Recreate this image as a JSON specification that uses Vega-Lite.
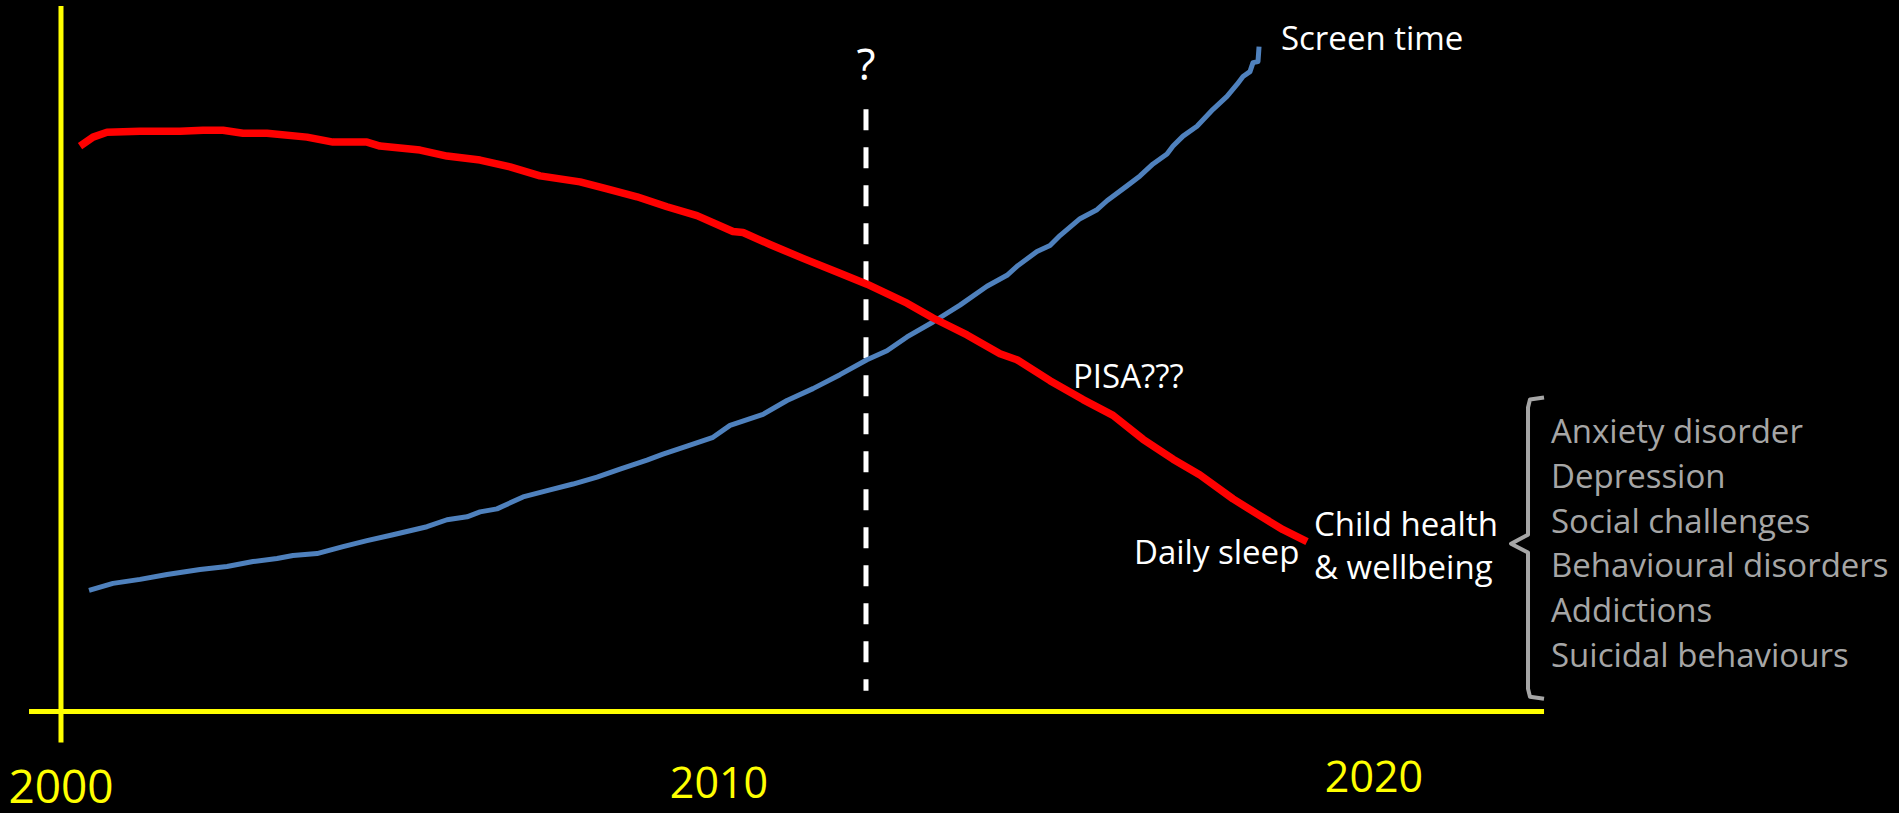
{
  "$schema": "https://vega.github.io/schema/vega-lite/v6.json",
  "width": 1899,
  "height": 813,
  "autosize": {"type": "fit", "contains": "padding"},
  "padding": 0,
  "background": "#000000",
  "config": {"view": {"stroke": null}},
  "datasets": {
    "sleep": [
      {"year": 2000.290, "value": 79.47}, {"year": 2000.488, "value": 80.73}, {"year": 2000.701, "value": 81.42},
      {"year": 2001.204, "value": 81.56}, {"year": 2001.813, "value": 81.56}, {"year": 2002.163, "value": 81.70},
      {"year": 2002.468, "value": 81.70}, {"year": 2002.772, "value": 81.28}, {"year": 2003.138, "value": 81.28},
      {"year": 2003.747, "value": 80.73}, {"year": 2004.143, "value": 80.03}, {"year": 2004.661, "value": 80.03},
      {"year": 2004.859, "value": 79.47}, {"year": 2005.469, "value": 78.91}, {"year": 2005.880, "value": 78.07},
      {"year": 2006.383, "value": 77.51}, {"year": 2006.840, "value": 76.54}, {"year": 2007.297, "value": 75.28},
      {"year": 2007.906, "value": 74.44}, {"year": 2008.317, "value": 73.46}, {"year": 2008.774, "value": 72.35},
      {"year": 2009.231, "value": 70.95}, {"year": 2009.688, "value": 69.69}, {"year": 2010.236, "value": 67.46},
      {"year": 2010.389, "value": 67.32}, {"year": 2010.800, "value": 65.64}, {"year": 2011.303, "value": 63.69},
      {"year": 2011.866, "value": 61.59}, {"year": 2012.277, "value": 60.06}, {"year": 2012.887, "value": 57.40},
      {"year": 2013.283, "value": 55.31}, {"year": 2013.801, "value": 52.93}, {"year": 2014.303, "value": 50.28},
      {"year": 2014.562, "value": 49.44}, {"year": 2015.065, "value": 46.51}, {"year": 2015.568, "value": 43.85},
      {"year": 2016.025, "value": 41.62}, {"year": 2016.482, "value": 38.27}, {"year": 2016.939, "value": 35.47},
      {"year": 2017.350, "value": 33.24}, {"year": 2017.852, "value": 29.89}, {"year": 2018.218, "value": 27.79},
      {"year": 2018.614, "value": 25.56}, {"year": 2018.980, "value": 23.88}
    ],
    "screen": [
      {"year": 2000.427, "value": 17.04}, {"year": 2000.792, "value": 18.02}, {"year": 2001.204, "value": 18.58},
      {"year": 2001.615, "value": 19.27}, {"year": 2002.118, "value": 19.97}, {"year": 2002.529, "value": 20.39},
      {"year": 2002.925, "value": 21.09}, {"year": 2003.290, "value": 21.51}, {"year": 2003.534, "value": 21.93},
      {"year": 2003.900, "value": 22.21}, {"year": 2004.296, "value": 23.18}, {"year": 2004.661, "value": 24.02},
      {"year": 2005.057, "value": 24.86}, {"year": 2005.575, "value": 25.98}, {"year": 2005.880, "value": 26.96},
      {"year": 2006.185, "value": 27.37}, {"year": 2006.383, "value": 28.07}, {"year": 2006.642, "value": 28.49},
      {"year": 2007.038, "value": 30.17}, {"year": 2007.449, "value": 31.15}, {"year": 2007.799, "value": 31.98},
      {"year": 2008.165, "value": 32.96}, {"year": 2008.515, "value": 34.08}, {"year": 2008.926, "value": 35.34},
      {"year": 2009.170, "value": 36.17}, {"year": 2009.536, "value": 37.29}, {"year": 2009.932, "value": 38.55},
      {"year": 2010.191, "value": 40.22}, {"year": 2010.693, "value": 41.76}, {"year": 2011.059, "value": 43.72},
      {"year": 2011.455, "value": 45.39}, {"year": 2011.866, "value": 47.35}, {"year": 2012.277, "value": 49.44},
      {"year": 2012.582, "value": 50.70}, {"year": 2012.887, "value": 52.65}, {"year": 2013.283, "value": 54.75},
      {"year": 2013.694, "value": 57.12}, {"year": 2014.105, "value": 59.78}, {"year": 2014.410, "value": 61.31},
      {"year": 2014.562, "value": 62.57}, {"year": 2014.867, "value": 64.66}, {"year": 2015.065, "value": 65.50},
      {"year": 2015.217, "value": 66.90}, {"year": 2015.522, "value": 69.27}, {"year": 2015.781, "value": 70.53},
      {"year": 2015.933, "value": 71.79}, {"year": 2016.238, "value": 73.88}, {"year": 2016.436, "value": 75.28},
      {"year": 2016.634, "value": 76.96}, {"year": 2016.847, "value": 78.35}, {"year": 2016.939, "value": 79.47},
      {"year": 2017.091, "value": 80.87}, {"year": 2017.304, "value": 82.26}, {"year": 2017.548, "value": 84.64},
      {"year": 2017.761, "value": 86.45}, {"year": 2017.913, "value": 88.13}, {"year": 2018.005, "value": 89.25},
      {"year": 2018.111, "value": 89.94}, {"year": 2018.157, "value": 91.20}, {"year": 2018.233, "value": 91.34},
      {"year": 2018.249, "value": 93.44}
    ],
    "bracket": [
      {"o": 1, "year": 2022.590, "value": 44.13},
      {"o": 2, "year": 2022.376, "value": 43.85},
      {"o": 3, "year": 2022.346, "value": 42.74},
      {"o": 4, "year": 2022.346, "value": 24.86},
      {"o": 5, "year": 2022.087, "value": 23.60},
      {"o": 6, "year": 2022.346, "value": 22.35},
      {"o": 7, "year": 2022.346, "value": 3.20},
      {"o": 8, "year": 2022.376, "value": 2.10},
      {"o": 9, "year": 2022.590, "value": 1.80}
    ],
    "whiteLabels": [
      {"label": "Screen time", "year": 2018.583, "value": 93.02},
      {"label": "PISA???", "year": 2015.415, "value": 45.53},
      {"label": "Daily sleep", "year": 2016.344, "value": 20.80},
      {"label": "Child health", "year": 2019.086, "value": 24.72},
      {"label": "& wellbeing", "year": 2019.086, "value": 18.57}
    ],
    "grayLabels": [
      {"label": "Anxiety disorder", "year": 2022.696, "value": 37.71},
      {"label": "Depression", "year": 2022.696, "value": 31.42},
      {"label": "Social challenges", "year": 2022.696, "value": 25.14},
      {"label": "Behavioural disorders", "year": 2022.696, "value": 18.85},
      {"label": "Addictions", "year": 2022.696, "value": 12.57},
      {"label": "Suicidal behaviours", "year": 2022.696, "value": 6.28}
    ],
    "years": [
      {"label": "2010", "year": 2010.023, "value": -12.17},
      {"label": "2020", "year": 2020.0, "value": -11.33}
    ]
  },
  "encoding": {
    "x": {"field": "year", "type": "quantitative", "scale": {"domain": [1999.071, 2027.997], "nice": false, "zero": false}, "axis": null},
    "y": {"field": "value", "type": "quantitative", "scale": {"domain": [-13.547, 100], "nice": false, "zero": false}, "axis": null}
  },
  "layer": [
    {
      "data": {"values": [{"year": 1999.513, "year2": 2022.590, "value": 0}]},
      "mark": {"type": "rule", "color": "#FFFF00", "strokeWidth": 5},
      "encoding": {"x2": {"field": "year2"}}
    },
    {
      "data": {"values": [{"year": 2000.0, "value": 99.16, "value2": -4.33}]},
      "mark": {"type": "rule", "color": "#FFFF00", "strokeWidth": 5},
      "encoding": {"y2": {"field": "value2"}}
    },
    {
      "data": {"values": [{"year": 2012.262, "value": 84.64, "value2": 2.93}]},
      "mark": {"type": "rule", "color": "#FFFFFF", "strokeWidth": 5, "strokeDash": [21, 17]},
      "encoding": {"y2": {"field": "value2"}}
    },
    {
      "data": {"name": "screen"},
      "mark": {"type": "line", "color": "#4F81BD", "strokeWidth": 5, "strokeJoin": "round"},
      "encoding": {}
    },
    {
      "data": {"name": "sleep"},
      "mark": {"type": "line", "color": "#FF0000", "strokeWidth": 7.5, "strokeJoin": "round"},
      "encoding": {}
    },
    {
      "data": {"name": "bracket"},
      "mark": {"type": "line", "color": "#A6A6A6", "strokeWidth": 4, "strokeJoin": "round"},
      "encoding": {"order": {"field": "o", "type": "quantitative"}}
    },
    {
      "data": {"name": "whiteLabels"},
      "mark": {"type": "text", "color": "#FFFFFF", "font": "Open Sans", "fontSize": 33, "align": "left", "baseline": "alphabetic"},
      "encoding": {"text": {"field": "label"}}
    },
    {
      "data": {"name": "grayLabels"},
      "mark": {"type": "text", "color": "#A6A6A6", "font": "Open Sans", "fontSize": 33, "align": "left", "baseline": "alphabetic"},
      "encoding": {"text": {"field": "label"}}
    },
    {
      "data": {"values": [{"label": "?", "year": 2012.262, "value": 88.69}]},
      "mark": {"type": "text", "color": "#FFFFFF", "font": "Open Sans", "fontSize": 44, "align": "center", "baseline": "alphabetic"},
      "encoding": {"text": {"field": "label"}}
    },
    {
      "data": {"name": "years"},
      "mark": {"type": "text", "color": "#FFFF00", "font": "Open Sans", "fontSize": 43, "align": "center", "baseline": "alphabetic"},
      "encoding": {"text": {"field": "label"}}
    },
    {
      "data": {"values": [{"label": "2000", "year": 2000.0, "value": -12.85}]},
      "mark": {"type": "text", "color": "#FFFF00", "font": "Open Sans", "fontSize": 46, "align": "center", "baseline": "alphabetic"},
      "encoding": {"text": {"field": "label"}}
    }
  ]
}
